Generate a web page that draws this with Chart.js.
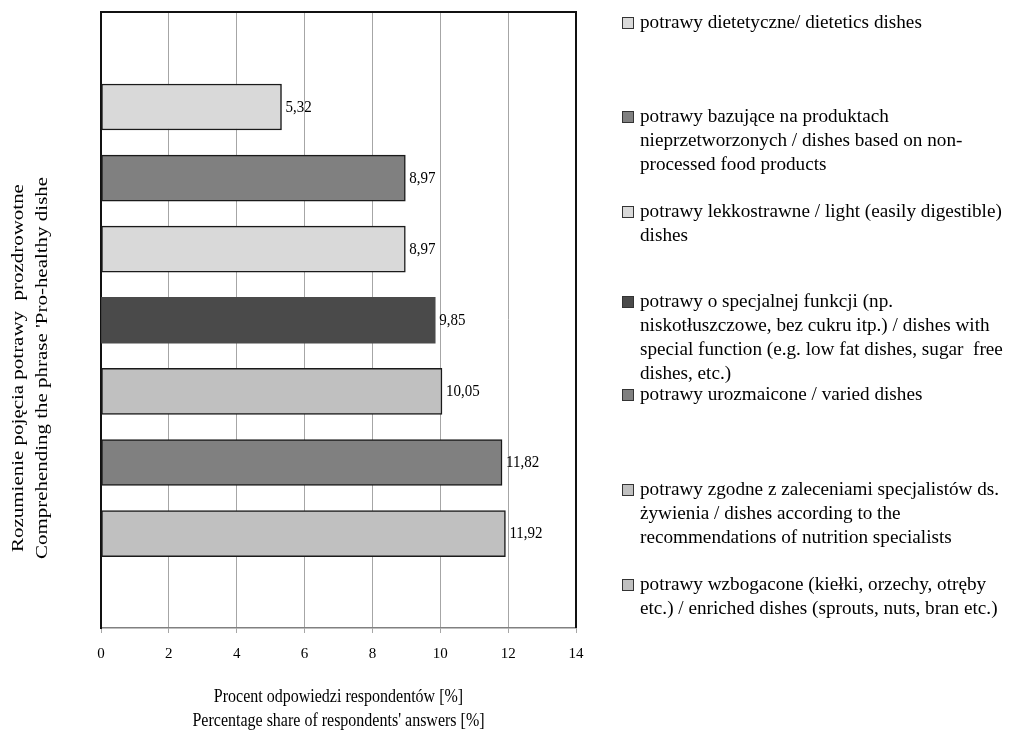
<!DOCTYPE html>
<html>
<head>
<meta charset="utf-8">
<script src="https://cdn.jsdelivr.net/npm/chart.js@4.4.1/dist/chart.umd.min.js"></script>
<style>
  html, body { margin: 0; padding: 0; background: #fff; }
  #wrap { width: 1010px; height: 735px; position: relative; }
</style>
</head>
<body>
<div id="wrap"><canvas id="chart"></canvas></div>
<script>
// Answer categories (legend order), each a list of wrapped lines
const categories = [
  ["potrawy dietetyczne/ dietetics dishes"],
  ["potrawy bazujące na produktach", "nieprzetworzonych / dishes based on non-", "processed food products"],
  ["potrawy lekkostrawne / light (easily digestible)", "dishes"],
  ["potrawy o specjalnej funkcji (np.", "niskotłuszczowe, bez cukru itp.) / dishes with", "special function (e.g. low fat dishes, sugar  free", "dishes, etc.)"],
  ["potrawy urozmaicone / varied dishes"],
  ["potrawy zgodne z zaleceniami specjalistów ds.", "żywienia / dishes according to the", "recommendations of nutrition specialists"],
  ["potrawy wzbogacone (kiełki, orzechy, otręby", "etc.) / enriched dishes (sprouts, nuts, bran etc.)"]
];
// Share of answers [%] for each category
const shares = [5.32, 8.97, 8.97, 9.85, 11.82, 10.05, 11.92];
// Row (from the top) of each category's bar
const barRow = [0, 1, 2, 3, 5, 4, 6];
// Fill colours of the series
const fills = ["#d9d9d9", "#808080", "#d9d9d9", "#4a4a4a", "#808080", "#c0c0c0", "#c0c0c0"];
const outlined = [true, true, true, false, true, true, true];
// Axis ticks and titles
const xTicks = [0, 2, 4, 6, 8, 10, 12, 14];
const xTitle = ["Procent odpowiedzi respondentów [%]", "Percentage share of respondents' answers [%]"];
const yTitle = ["Rozumienie pojęcia potrawy  prozdrowotne", "Comprehending the phrase 'Pro-healthy dishe"];

const SERIF = "'Liberation Serif', 'Times New Roman', serif";

const datasets = categories.map((lines, i) => ({
  label: lines.join(" "),
  data: [{ x: shares[i], y: barRow[i] }],
  backgroundColor: fills[i],
  borderColor: "#1a1a1a",
  borderWidth: outlined[i] ? 1.5 : 0,
  borderSkipped: false,
  barThickness: 46,
  grouped: false
}));

// Text drawn slightly taller than wide, like the rest of the figure's lettering
function tallText(ctx, text, x, y, stretch) {
  ctx.save();
  ctx.translate(x, y);
  ctx.scale(1, stretch);
  ctx.fillText(text, 0, 0);
  ctx.restore();
}

// Frame, value labels, axis titles and the legend column
const decorations = {
  id: "decorations",
  afterDatasetsDraw(chart) {
    const { ctx } = chart;
    const xs = chart.scales.x, ys = chart.scales.y;
    ctx.save();
    // value labels next to the bars
    ctx.font = "15px " + SERIF;
    ctx.fillStyle = "#000";
    ctx.textBaseline = "middle";
    ctx.textAlign = "left";
    shares.forEach((v, i) => {
      const px = xs.getPixelForValue(v) + 4;
      const py = ys.getPixelForValue(barRow[i]);
      tallText(ctx, v.toFixed(2).replace(".", ","), px, py, 1.18);
    });
    ctx.restore();
  },
  afterDraw(chart) {
    const { ctx, chartArea: a } = chart;
    ctx.save();
    // plot frame: top and right edges
    ctx.strokeStyle = "#111";
    ctx.lineWidth = 2;
    ctx.beginPath();
    ctx.moveTo(a.left, a.top);
    ctx.lineTo(a.right, a.top);
    ctx.lineTo(a.right, a.bottom);
    ctx.stroke();

    // x-axis title
    ctx.font = "16px " + SERIF;
    ctx.fillStyle = "#000";
    ctx.textAlign = "center";
    ctx.textBaseline = "middle";
    const cx = (a.left + a.right) / 2;
    xTitle.forEach((t, k) => tallText(ctx, t, cx, 697 + k * 24, 1.15));

    // y-axis title, rotated and drawn tall
    ctx.save();
    ctx.translate(19, 368);
    ctx.rotate(-Math.PI / 2);
    ctx.scale(1.31, 1);
    yTitle.forEach((t, k) => ctx.fillText(t, 0, k * 24));
    ctx.restore();

    // legend column
    const itemTop = [23, 117, 212, 302, 395, 490, 585];
    const lineGap = 24;
    ctx.font = "19.2px " + SERIF;
    ctx.textAlign = "left";
    categories.forEach((lines, i) => {
      const y0 = itemTop[i];
      ctx.fillStyle = fills[i];
      ctx.fillRect(622, y0 - 6, 11, 11);
      ctx.strokeStyle = "#333";
      ctx.lineWidth = 1;
      ctx.strokeRect(622.5, y0 - 5.5, 11, 11);
      ctx.fillStyle = "#000";
      lines.forEach((t, k) => ctx.fillText(t, 640, y0 + k * lineGap));
    });
    ctx.restore();
  }
};

new Chart(document.getElementById("chart"), {
  type: "bar",
  data: { datasets },
  options: {
    indexAxis: "y",
    responsive: true,
    maintainAspectRatio: false,
    animation: false,
    layout: { padding: { left: 101, top: 12, right: 434, bottom: 67 } },
    plugins: { legend: { display: false }, tooltip: { enabled: false } },
    scales: {
      x: {
        type: "linear",
        min: xTicks[0],
        max: xTicks[xTicks.length - 1],
        afterBuildTicks(scale) { scale.ticks = xTicks.map(v => ({ value: v })); },
        afterFit(scale) { scale.height = 40; },
        grid: { color: "#a6a6a6", lineWidth: 1, tickLength: 5, drawTicks: true },
        border: { display: true, color: "#808080", width: 1.5 },
        ticks: { color: "#000", font: { family: SERIF, size: 15 }, padding: 12, maxRotation: 0 }
      },
      y: {
        type: "linear",
        reverse: true,
        offset: false,
        min: -1.336,
        max: 7.328,
        afterFit(scale) { scale.width = 0; },
        grid: { display: false },
        border: { display: true, color: "#111", width: 2 },
        ticks: { display: false }
      }
    }
  },
  plugins: [decorations]
});
</script>
</body>
</html>
